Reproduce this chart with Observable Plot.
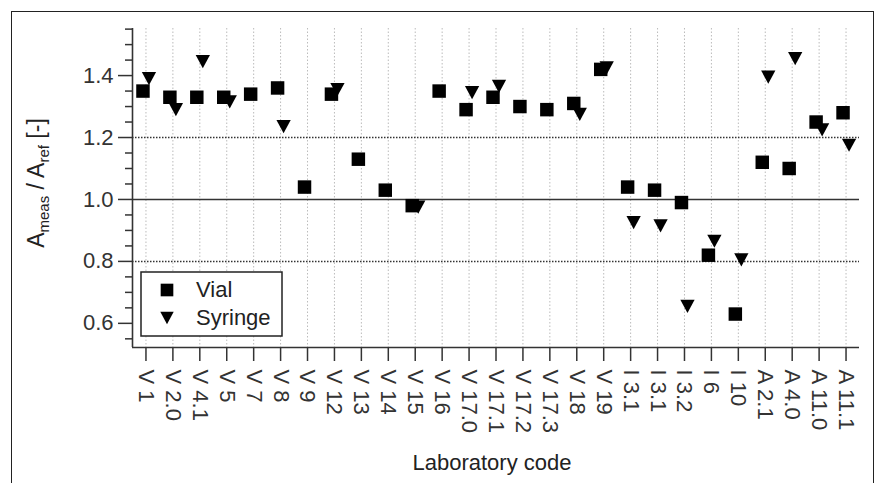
<!DOCTYPE html>
<html>
<head>
<meta charset="utf-8">
<script src="https://cdn.jsdelivr.net/npm/d3@7"></script>
<script src="https://cdn.jsdelivr.net/npm/@observablehq/plot@0.6"></script>
<style>
  html, body { margin: 0; padding: 0; background: #fff; overflow: hidden; }
  #wrap { position: relative; width: 877px; height: 483px; }
  #frame { position: absolute; left: 11px; top: 11px; width: 863px; height: 520px; border: 1.5px solid #222; box-sizing: border-box; pointer-events: none; }
  #chart { position: absolute; left: 0; top: 0; }
</style>
</head>
<body>
<div id="wrap"><div id="chart"></div><div id="frame"></div></div>
<script>
const codes = ["V 1","V 2.0","V 4.1","V 5","V 7","V 8","V 9","V 12","V 13","V 14","V 15","V 16","V 17.0","V 17.1","V 17.2","V 17.3","V 18","V 19","I 3.1","I 3.1","I 3.2","I 6","I 10","A 2.1","A 4.0","A 11.0","A 11.1"];
const vial = [1.35,1.33,1.33,1.33,1.34,1.36,1.04,1.34,1.13,1.03,0.98,1.35,1.29,1.33,1.30,1.29,1.31,1.42,1.04,1.03,0.99,0.82,0.63,1.12,1.10,1.25,1.28];
const syringe = [1.39,1.29,1.445,1.315,null,1.235,null,1.355,null,null,0.975,null,1.345,1.365,null,null,1.275,1.425,0.925,0.915,0.655,0.865,0.805,1.395,1.455,1.225,1.175];
const yMajor = [0.6, 0.8, 1.0, 1.2, 1.4];
const yMinor = [0.55,0.65,0.7,0.75,0.85,0.9,0.95,1.05,1.1,1.15,1.25,1.3,1.35,1.45,1.5,1.55];
const refSolid = [1.0];
const refDotted = [0.8, 1.2];
const yDomain = [0.522, 1.552];

const idx = codes.map((_, i) => i);
const vialData = idx.map(i => ({i, v: vial[i]}));
const syrData = idx.filter(i => syringe[i] != null).map(i => ({i, v: syringe[i]}));

const squareSym = { draw(ctx, size) { const s = Math.sqrt(size) / 2; ctx.moveTo(-s, -s); ctx.lineTo(s, -s); ctx.lineTo(s, s); ctx.lineTo(-s, s); ctx.closePath(); } };
const triDown = { draw(ctx, size) { const w = Math.sqrt(size) * 0.53, h = Math.sqrt(size) * 0.49; ctx.moveTo(-w, -h); ctx.lineTo(w, -h); ctx.lineTo(0, h); ctx.closePath(); } };

const font = "'Liberation Sans', Arial, Helvetica, sans-serif";
const chart = Plot.plot({
  width: 877, height: 483,
  marginLeft: 132, marginTop: 28, marginBottom: 136, marginRight: 18,
  style: { fontFamily: font, fontSize: "22px", color: "#222", background: "transparent" },
  x: { domain: [-0.5, codes.length - 0.5], axis: null },
  y: { domain: yDomain, axis: null },
  marks: [
    Plot.ruleX(idx, { x: d => d, stroke: "#bbb", strokeWidth: 1, strokeDasharray: "1.5,2" }),
    Plot.ruleY(refDotted, { stroke: "#333", strokeWidth: 1.5, strokeDasharray: "1.5,1.5" }),
    Plot.ruleY(refSolid, { stroke: "#333", strokeWidth: 1.6 }),
    Plot.axisY({ ticks: yMinor, tickSize: 7, tickFormat: () => "", label: null, stroke: "#333", strokeWidth: 1.5 }),
    Plot.axisY({ ticks: yMajor, tickSize: 14, tickPadding: 5, tickFormat: d3.format(".1f"), label: null, stroke: "#333", strokeWidth: 1.5, fontSize: 22, fill: "#333" }),
    Plot.axisX({ ticks: idx, tickSize: 14, tickPadding: 8, tickRotate: 90, tickFormat: i => codes[i], label: null, stroke: "#333", strokeWidth: 1.5, fontSize: 22, fill: "#333" }),
    Plot.ruleY([yDomain[0]], { stroke: "#333", strokeWidth: 1.6 }),
    Plot.ruleX([-0.5], { stroke: "#333", strokeWidth: 1.6 }),
    Plot.dot(vialData, { x: "i", y: "v", dx: -3, symbol: squareSym, r: 7.6, fill: "#000", stroke: "none" }),
    Plot.dot(syrData, { x: "i", y: "v", dx: 3, symbol: triDown, r: 7.6, fill: "#000", stroke: "none" })
  ]
});
document.getElementById("chart").appendChild(chart);

const svg = d3.select(chart);
// y-axis title with subscripts
const t = svg.append("text")
  .attr("transform", "translate(44,183) rotate(-90)")
  .attr("text-anchor", "middle")
  .attr("font-family", font).attr("font-size", 23).attr("fill", "#222");
t.append("tspan").text("A");
t.append("tspan").attr("font-size", 15).attr("dy", 5).text("meas");
t.append("tspan").attr("dy", -5).text(" / A");
t.append("tspan").attr("font-size", 15).attr("dy", 5).text("ref");
t.append("tspan").attr("dy", -5).text(" [-]");
// x-axis title
svg.append("text").attr("x", 492).attr("y", 470).attr("text-anchor", "middle")
  .attr("font-family", font).attr("font-size", 22).attr("fill", "#222").text("Laboratory code");
// legend
const lg = svg.append("g").attr("text-anchor", "start");
lg.append("rect").attr("x", 141).attr("y", 272).attr("width", 141).attr("height", 64)
  .attr("fill", "#fff").attr("stroke", "#222").attr("stroke-width", 1.5);
const sq = d3.symbol().type(squareSym).size(160)();
const tr = d3.symbol().type(triDown).size(160)();
lg.append("path").attr("d", sq).attr("transform", "translate(167,290)").attr("fill", "#000");
lg.append("path").attr("d", tr).attr("transform", "translate(167,318)").attr("fill", "#000");
lg.append("text").attr("x", 196).attr("y", 297).attr("text-anchor", "start").attr("font-family", font).attr("font-size", 22).attr("fill", "#222").text("Vial");
lg.append("text").attr("x", 196).attr("y", 325).attr("text-anchor", "start").attr("font-family", font).attr("font-size", 22).attr("fill", "#222").text("Syringe");
</script>
</body>
</html>
